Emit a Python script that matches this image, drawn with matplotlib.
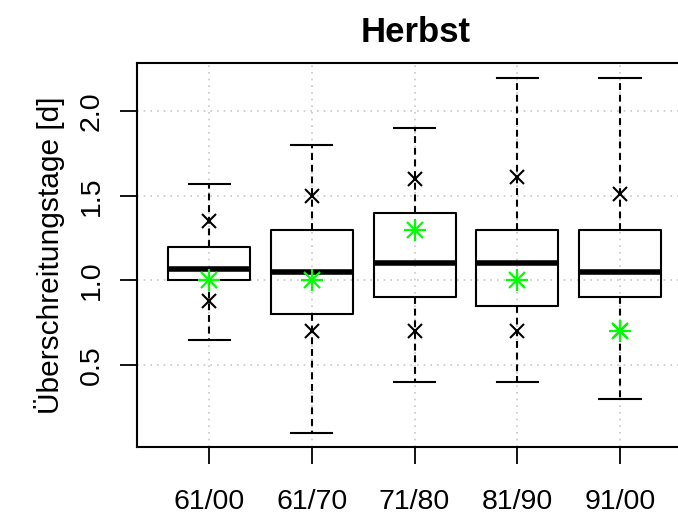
import matplotlib
matplotlib.use("Agg")
import matplotlib.pyplot as plt

plt.rcParams['font.family'] = ['Liberation Sans', 'DejaVu Sans']

categories = ["61/00", "61/70", "71/80", "81/90", "91/00"]
whisker_lo = [0.65, 0.10, 0.40, 0.40, 0.30]
box_lo = [1.00, 0.80, 0.90, 0.85, 0.90]
medians = [1.07, 1.05, 1.10, 1.10, 1.05]
box_hi = [1.20, 1.30, 1.40, 1.30, 1.30]
whisker_hi = [1.57, 1.80, 1.90, 2.20, 2.20]
cross_hi = [1.35, 1.50, 1.60, 1.61, 1.51]
cross_lo = [0.88, 0.70, 0.70, 0.70, 0.70]
green_star = [1.00, 1.00, 1.30, 1.00, 0.70]
yticks = [0.5, 1.0, 1.5, 2.0]

fig = plt.figure(figsize=(6.78, 5.21), dpi=100)
ax = fig.add_axes([137.3/678, 74.3/521, 5.4*102.7/678, 383.4/521])

pos = list(range(1, len(categories) + 1))
stats = []
for i in range(len(categories)):
    stats.append(dict(whislo=whisker_lo[i], q1=box_lo[i], med=medians[i],
                      q3=box_hi[i], whishi=whisker_hi[i], fliers=[]))

ax.bxp(stats, positions=pos, widths=0.8, showfliers=False,
       boxprops=dict(color='black', linewidth=1.5),
       medianprops=dict(color='black', linewidth=4.0, solid_capstyle='butt'),
       whiskerprops=dict(color='black', linewidth=1.5, linestyle=(0, (3.3, 2.3))),
       capprops=dict(color='black', linewidth=1.5), capwidths=0.4, zorder=3)

ax.plot(pos, cross_hi, linestyle='none', marker='x', color='black', markersize=10, markeredgewidth=1.5, zorder=4)
ax.plot(pos, cross_lo, linestyle='none', marker='x', color='black', markersize=10, markeredgewidth=1.5, zorder=4)
ax.plot(pos, green_star, linestyle='none', marker='+', color='#00ff00', markersize=16, markeredgewidth=1.6, zorder=5)
ax.plot(pos, green_star, linestyle='none', marker='x', color='#00ff00', markersize=11, markeredgewidth=1.6, zorder=5)

ax.set_xlim(0.3, 5.7)
ax.set_ylim(0.016, 2.284)
ax.set_xticks(pos)
ax.set_xticklabels(categories, fontsize=20.5)
ax.set_yticks(yticks)
ax.set_yticklabels([f"{v:.1f}" for v in yticks], fontsize=20.5, rotation=90, va='center')
ax.tick_params(axis='both', length=12.5, width=1.3, color='black')
ax.tick_params(axis='x', pad=18)
ax.tick_params(axis='y', pad=11)

for v in yticks:
    ax.axhline(v, color='#c8c8c8', linestyle=(0, (1, 3)), linewidth=1.2, zorder=1)
for p in pos:
    ax.axvline(p, color='#c8c8c8', linestyle=(0, (1, 3)), linewidth=1.2, zorder=1)

for s in ax.spines.values():
    s.set_linewidth(1.5)

ax.set_ylabel("Überschreitungstage [d]", fontsize=21.5, labelpad=10)
fig.text(416/678, 1 - 33/521, "Herbst", fontsize=25, fontweight='bold', ha='center', va='center')

fig.savefig("out.png", dpi=100)
